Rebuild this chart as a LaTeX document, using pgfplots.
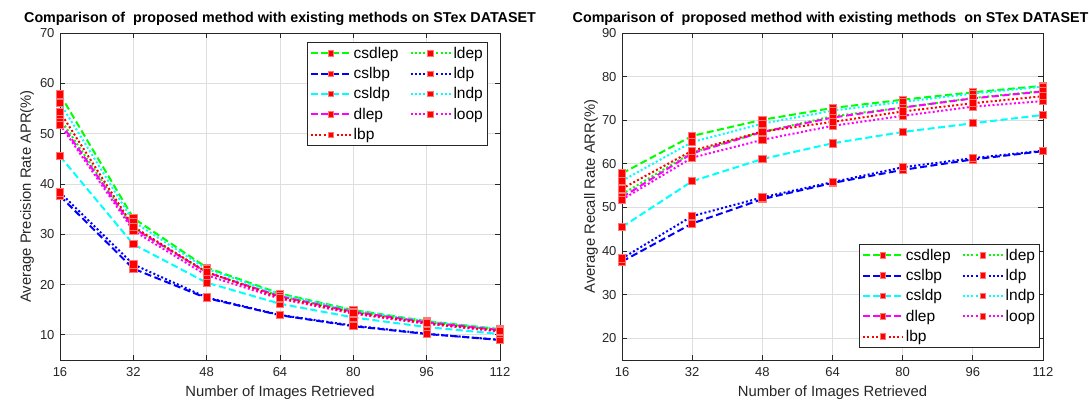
\documentclass[border=0pt]{standalone}
\usepackage{pgfplots}
\pgfplotsset{compat=1.18}
\usepackage{pgfplotstable}
\usepackage{fontspec}
\setmainfont{Liberation Sans}
\definecolor{axgray}{RGB}{38,38,38}
\definecolor{gridgray}{RGB}{222,222,222}
\definecolor{mkedge}{RGB}{255,120,120}
\definecolor{mgreen}{RGB}{0,255,0}
\definecolor{mblue}{RGB}{0,0,255}
\definecolor{mcyan}{RGB}{0,255,255}
\definecolor{mmag}{RGB}{255,0,255}
\definecolor{mred}{RGB}{255,0,0}

\pgfplotstableread{
n   csdlep cslbp csldp dlep lbp  ldep ldp  lndp loop
16  57.8   37.6  45.5  52.3 54.3 53.0 38.3 56.1 51.8
32  33.2   23.15 28.0  31.2 31.5 31.3 24.0 32.5 30.7
48  23.37  17.3  20.37 22.43 22.47 22.43 17.43 23.07 21.83
64  18.2   13.9  16.18 17.65 17.4 17.73 13.95 18.05 17.18
80  14.94  11.72 13.46 14.58 14.4 14.58 11.84 14.84 14.2
96  12.73  10.17 11.55 12.5 12.32 12.52 10.22 12.68 12.18
112 11.13  8.99  10.17 10.94 10.79 10.96 9.0 11.1 10.63
}\apr

\pgfplotstableread{
n   csdlep cslbp csldp dlep lbp  ldep ldp  lndp loop
16  57.8   37.6  45.5  52.3 54.3 53.0 38.3 56.1 51.8
32  66.4   46.3  56.0  62.4 63.0 62.6 48.0 65.0 61.4
48  70.1   51.9  61.1  67.3 67.4 67.3 52.3 69.2 65.5
64  72.8   55.6  64.7  70.6 69.6 70.9 55.8 72.2 68.7
80  74.7   58.6  67.3  72.9 72.0 72.9 59.2 74.2 71.0
96  76.4   61.0  69.3  75.0 73.9 75.1 61.3 76.1 73.1
112 77.9   62.9  71.2  76.6 75.5 76.7 63.0 77.7 74.4
}\arr

\pgfplotsset{
  mk/.style={mark=square*, mark size=3.6pt, mark options={solid, fill=mred, draw=mkedge, line width=0.8pt}},
  dsh/.style={line width=2pt, dash pattern=on 7pt off 3.5pt},
  dtt/.style={line width=2pt, dash pattern=on 2pt off 2.3pt},
  common/.style={
    scale only axis,
    xmin=16, xmax=112,
    xtick={16,32,48,64,80,96,112},
    grid=major,
    grid style={gridgray, line width=0.8pt},
    axis line style={axgray, line width=0.8pt},
    tick style={axgray, line width=0.8pt},
    tick align=inside,
    major tick length=5pt,
    /pgf/number format/assume math mode=true,
    ticklabel style={font=\fontsize{13}{13}\selectfont, text=axgray},
    xticklabel style={yshift=-4pt},
    yticklabel style={xshift=-2pt},
    label style={font=\fontsize{14.8}{15}\selectfont, text=axgray},
    title style={font=\bfseries\fontsize{14.3}{15}\selectfont, text=black, at={(axis description cs:0.5,1)}, anchor=base, yshift=5pt},
    xlabel style={at={(axis description cs:0.5,0)}, anchor=base, yshift=-36pt},
    legend columns=2,
    legend cell align=left,
    legend style={draw=axgray, line width=0.8pt, fill=white, font=\fontsize{15.5}{16}\selectfont, text=black,
      inner sep=2.5pt, row sep=3.6pt,
      /tikz/every even column/.append style={column sep=9pt}},
    legend image code/.code={\draw[mark repeat=2, mark phase=2, ##1, mark size=2.8pt] plot coordinates {(0pt,0pt) (20pt,0pt) (40pt,0pt)};},
  },
}

\begin{document}
\begin{tikzpicture}[x=1pt,y=1pt]
\useasboundingbox (0,0) rectangle (1089,399);

\begin{axis}[common,
  at={(60pt,39pt)}, anchor=south west,
  width=440pt, height=327pt,
  ymin=5, ymax=70, ytick={10,20,...,70},
  title={Comparison of\ \ proposed method with existing methods on STex DATASET},
  xlabel={Number of Images Retrieved},
  ylabel={Average Precision Rate APR(\%)},
  ylabel style={at={(axis description cs:-0.075,0.5)}, anchor=center},
  legend style={at={(axis description cs:0.561,0.972)}, anchor=north west},
]
\addplot[mgreen, dsh, mk] table[x=n,y=csdlep]{\apr};
\addplot[mgreen, dtt, mk] table[x=n,y=ldep]{\apr};
\addplot[mblue, dsh, mk] table[x=n,y=cslbp]{\apr};
\addplot[mblue, dtt, mk] table[x=n,y=ldp]{\apr};
\addplot[mcyan, dsh, mk] table[x=n,y=csldp]{\apr};
\addplot[mcyan, dtt, mk] table[x=n,y=lndp]{\apr};
\addplot[mmag, dsh, mk] table[x=n,y=dlep]{\apr};
\addplot[mmag, dtt, mk] table[x=n,y=loop]{\apr};
\addplot[mred, dtt, mk] table[x=n,y=lbp]{\apr};
\legend{csdlep,ldep,cslbp,ldp,csldp,lndp,dlep,loop,lbp}
\end{axis}

\begin{axis}[common,
  at={(622pt,39pt)}, anchor=south west,
  width=421pt, height=327pt,
  ymin=15, ymax=90, ytick={20,30,...,90},
  title={Comparison of\ \ proposed method with existing methods\ \ on STex DATASET},
  title style={xshift=-2pt},
  xlabel={Number of Images Retrieved},
  ylabel={Average Recall Rate ARR(\%)},
  ylabel style={at={(axis description cs:-0.0736,0.5)}, anchor=center},
  legend style={at={(axis description cs:0.563,0.355)}, anchor=north west},
]
\addplot[mgreen, dsh, mk] table[x=n,y=csdlep]{\arr};
\addplot[mgreen, dtt, mk] table[x=n,y=ldep]{\arr};
\addplot[mblue, dsh, mk] table[x=n,y=cslbp]{\arr};
\addplot[mblue, dtt, mk] table[x=n,y=ldp]{\arr};
\addplot[mcyan, dsh, mk] table[x=n,y=csldp]{\arr};
\addplot[mcyan, dtt, mk] table[x=n,y=lndp]{\arr};
\addplot[mmag, dsh, mk] table[x=n,y=dlep]{\arr};
\addplot[mmag, dtt, mk] table[x=n,y=loop]{\arr};
\addplot[mred, dtt, mk] table[x=n,y=lbp]{\arr};
\legend{csdlep,ldep,cslbp,ldp,csldp,lndp,dlep,loop,lbp}
\end{axis}
\end{tikzpicture}
\end{document}
